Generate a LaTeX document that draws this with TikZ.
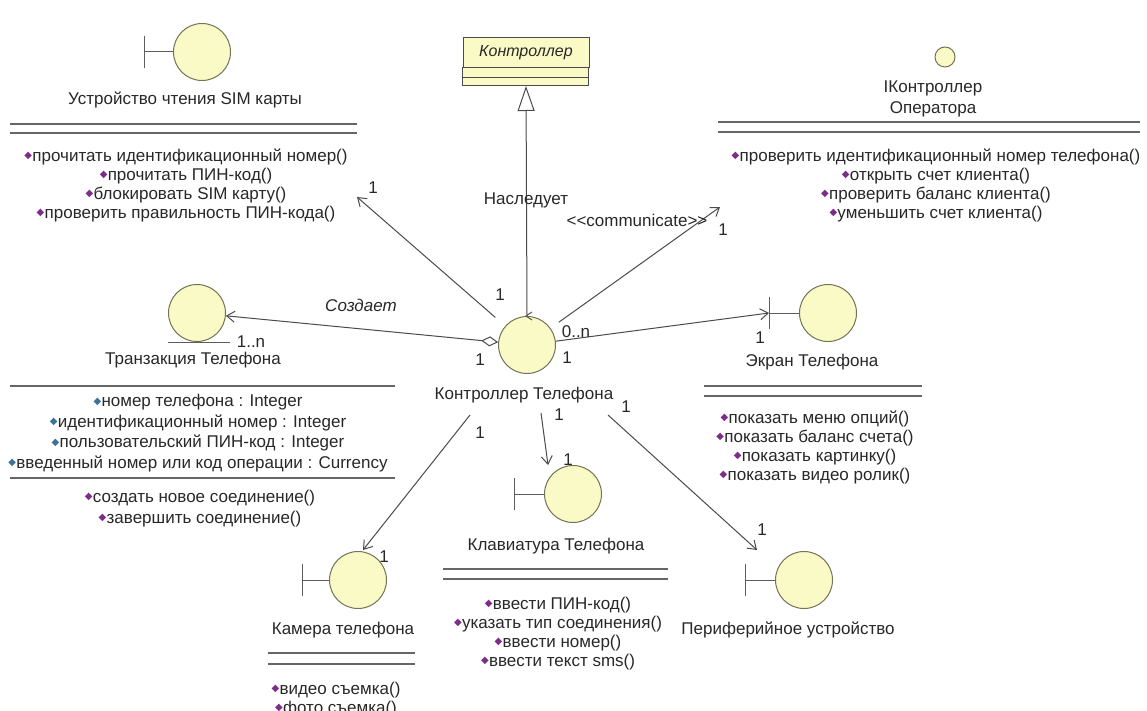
\documentclass[tikz,border=0pt]{standalone}
\usepackage{fontspec}
\setmainfont{Liberation Sans}
\newfontfamily\symfont{DejaVu Sans}
\usetikzlibrary{arrows.meta}
\definecolor{iconfill}{RGB}{250,250,198}
\definecolor{iconline}{RGB}{115,115,85}
\definecolor{wire}{RGB}{75,75,75}
\definecolor{txt}{RGB}{40,40,40}
\definecolor{opc}{RGB}{125,45,135}
\definecolor{attc}{RGB}{60,115,150}
\newcommand{\opmark}{{\symfont\color{opc}\fontsize{10}{10}\selectfont\raisebox{.55ex}{◆}}\kern.3pt}
\newcommand{\attmark}{{\symfont\color{attc}\fontsize{10}{10}\selectfont\raisebox{.45ex}{◆}}\kern.3pt}
\tikzset{
  icon/.style={circle, draw=iconline, fill=iconfill, line width=1pt, minimum size=57pt, inner sep=0pt},
  iconedge/.style={draw=wire!90, line width=1pt},
  conn/.style={draw=wire, line width=1pt, -{Straight Barb[length=8pt,width=11pt]}},
  lbl/.style={text=txt, font=\fontsize{17}{19}\selectfont, inner sep=0pt},
  ops/.style={lbl, align=center},
  sep/.style={draw=wire!85, line width=1.3pt},
}

\begin{document}
\begin{tikzpicture}[x=1pt, y=-1pt]
	\fill[white] (0,0) rectangle (1147,711);
	\useasboundingbox (0,0) rectangle (1147,711);
	% SIM reader
	\node[icon] (sim) at (202,52) {};
	\draw[iconedge] (sim.west) -- ++(-29,0) ++(0,-16) -- ++(0,32);
	\node[lbl] (simname) at (185,100) {Устройство чтения SIM карты};
	\draw[sep] (10,124) -- (357,124) (10,133) -- (357,133);
	\node[ops, anchor=north] (simops) at (186,149) {\opmark прочитать идентификационный номер()\\ \opmark прочитать ПИН-код()\\ \opmark блокировать SIM карту()\\ \opmark проверить правильность ПИН-кода()};
	% base class
	\node[draw=wire, line width=1pt, fill=iconfill, minimum width=126pt, minimum height=30pt, anchor=north, text=txt, font=\fontsize{16}{16}\selectfont\itshape] (base) at (526,37) {Контроллер};
	\draw[draw=wire, line width=1pt, fill=iconfill] (base.south west) rectangle ++(126,10) rectangle ++(-126,8);
	\coordinate (basebot) at ([yshift=-18pt]base.south);
	% operator interface
	\node[circle, draw=iconline, fill=iconfill, line width=1pt, minimum size=20pt, inner sep=0pt] (oper) at (945,57) {};
	\node[ops, font=\fontsize{17}{21}\selectfont] (opername) at (933,99) {IКонтроллер\\ Оператора};
	\draw[sep] (718,122) -- (1140,122) (718,132) -- (1140,132);
	\node[ops, anchor=north] (operops) at (936,149) {\opmark проверить идентификационный номер телефона()\\ \opmark открыть счет клиента()\\ \opmark проверить баланс клиента()\\ \opmark уменьшить счет клиента()};
	% transaction entity
	\node[icon] (trans) at (197,313) {};
	\draw[iconedge] (trans.south) ++(-29,0) -- ++(62,0);
	\node[lbl] (transname) at (193,360) {Транзакция Телефона};
	\draw[sep] (10,386) -- (395,386);
	\node[ops, anchor=north, font=\fontsize{17}{20.5}\selectfont] (transatt) at (198,394) {\attmark номер телефона : Integer\\ \attmark идентификационный номер : Integer\\ \attmark пользовательский ПИН-код : Integer\\ \attmark введенный номер или код операции : Currency};
	\draw[sep] (10,478) -- (395,478);
	\node[ops, anchor=north, font=\fontsize{17}{21}\selectfont] (transops) at (200,490) {\opmark создать новое соединение()\\ \opmark завершить соединение()};
	% phone controller
	\node[icon] (ctl) at (527,345) {};
	\draw[iconedge] (ctl.north) ++(5,-4) -- ++(-6,4) -- ++(6,4);
	\node[lbl] (ctlname) at (524,395) {Контроллер Телефона};
	% screen
	\node[icon] (scr) at (828,313) {};
	\draw[iconedge] (scr.west) -- ++(-30,0) ++(0,-16) -- ++(0,32);
	\coordinate (scrbar) at ([xshift=-30pt]scr.west);
	\node[lbl] (scrname) at (812,362) {Экран Телефона};
	\draw[sep] (704,386) -- (922,386) (704,396) -- (922,396);
	\node[ops, anchor=north] (scrops) at (815,411) {\opmark показать меню опций()\\ \opmark показать баланс счета()\\ \opmark показать картинку()\\ \opmark показать видео ролик()};
	% keyboard
	\node[icon] (kbd) at (573,494) {};
	\draw[iconedge] (kbd.west) -- ++(-30,0) ++(0,-16) -- ++(0,32);
	\node[lbl] (kbdname) at (556,546) {Клавиатура Телефона};
	\draw[sep] (443,569) -- (668,569) (443,579) -- (668,579);
	\node[ops, anchor=north] (kbdops) at (558,597) {\opmark ввести ПИН-код()\\ \opmark указать тип соединения()\\ \opmark ввести номер()\\ \opmark ввести текст sms()};
	% camera
	\node[icon] (cam) at (358,580) {};
	\draw[iconedge] (cam.west) -- ++(-27,0) ++(0,-16) -- ++(0,32);
	\node[lbl] (camname) at (343,630) {Камера телефона};
	\draw[sep] (268,653) -- (415,653) (268,664) -- (415,664);
	\node[ops, anchor=north] (camops) at (336,682) {\opmark видео съемка()\\ \opmark фото съемка()};
	% peripheral
	\node[icon] (per) at (804,580) {};
	\draw[iconedge] (per.west) -- ++(-30,0) ++(0,-16) -- ++(0,32);
	\node[lbl] (pername) at (788,630) {Периферийное устройство};
	% connector ends
	\coordinate (simtip) at (357,197);
	\coordinate (opertip) at (720,207);
	\coordinate (kbdfrom) at (541,413);
	\coordinate (kbdto) at (548,465);
	\coordinate (camfrom) at (470,415);
	\coordinate (camto) at (363,550);
	\coordinate (perfrom) at (608,415);
	\coordinate (perto) at (757,550);
	% connectors
	\draw[draw=wire, line width=1pt, -{Triangle[length=25pt, width=17pt, fill=white]}] (ctl.north) -- (basebot);
	\draw[conn, shorten <=13pt] (ctl) -- (simtip);
	\draw[conn, shorten <=10pt] (ctl) -- (opertip);
	\draw[conn, {Diamond[length=17pt, width=10pt, fill=white]}-{Straight Barb[length=8pt,width=11pt]}] (ctl) -- (trans);
	\draw[conn] (ctl) -- (scrbar);
	\draw[conn] (kbdfrom) -- (kbdto);
	\draw[conn] (camfrom) -- (camto);
	\draw[conn] (perfrom) -- (perto);
	% connector labels
	\node[lbl] (inh) at (526,200) {Наследует};
	\node[lbl] (comm) at (637,220) {{<}{<}communicate{>}{>}};
	\node[lbl, font=\fontsize{17}{19}\selectfont\itshape] (creates) at (361,305) {Создает};
	% multiplicities
	\node[lbl] (m1) at (373,188) {1};
	\node[lbl] (m2) at (500,295) {1};
	\node[lbl] (m3) at (723,230) {1};
	\node[lbl] (m4) at (251,342) {1..n};
	\node[lbl] (m5) at (480,360) {1};
	\node[lbl] (m6) at (576,332) {0..n};
	\node[lbl] (m7) at (567,358) {1};
	\node[lbl] (m8) at (760,338) {1};
	\node[lbl] (m9) at (559,415) {1};
	\node[lbl] (m10) at (568,460) {1};
	\node[lbl] (m11) at (480,433) {1};
	\node[lbl] (m12) at (384,557) {1};
	\node[lbl] (m13) at (626,407) {1};
	\node[lbl] (m14) at (762,530) {1};
\end{tikzpicture}
\end{document}
